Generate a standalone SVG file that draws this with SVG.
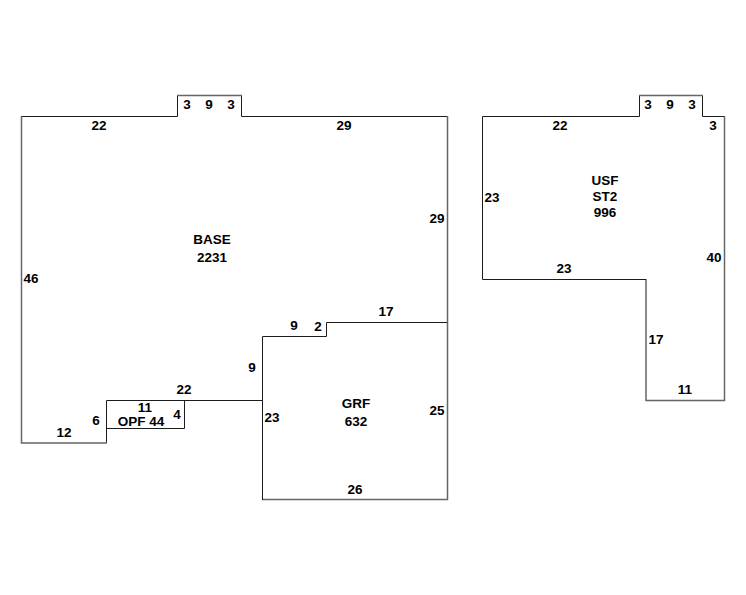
<svg xmlns="http://www.w3.org/2000/svg" width="746" height="595" viewBox="0 0 746 595">
<style>
.d{fill:none;stroke:#1c1c1c;stroke-width:1}
.g{fill:none;stroke:#666;stroke-width:1.500}
text{font-family:"Liberation Sans",Arial,sans-serif;font-size:13.500px;font-weight:bold;fill:#000;text-anchor:middle}
</style>
<rect width="746" height="595" fill="#fff"/>
<g id="connectors">
<path class="d" d="M21.500 116.500H177.500V95M241.500 95V116.500H447"/>
<path class="g" d="M177 95.500H242"/>
<path class="g" d="M447.500 116V499.500H262"/>
<path class="d" d="M262.500 500V336.500H326.500V322.500H447"/>
<path class="d" d="M262 400.500H106.500V443"/>
<path class="g" d="M107 443H21.500V116"/>
<path class="d" d="M106.500 428.500H184.500V400.500"/>
<path class="d" d="M482.500 279.500V116.500H639.500V95M702.500 95V116.500H724"/>
<path class="g" d="M639 95.500H703"/>
<path class="g" d="M724.500 116V400.500H646V279"/>
<path class="d" d="M646 279.500H482.500"/>
</g>
<g id="base">
<text x="212" y="244">BASE</text><text x="212" y="262">2231</text>
<text x="99" y="130">22</text><text x="187" y="109">3</text><text x="209" y="109">9</text><text x="231" y="109">3</text>
<text x="344" y="130">29</text><text x="437" y="223">29</text><text x="31" y="283">46</text>
<text x="64" y="437">12</text><text x="96" y="425">6</text><text x="184" y="394">22</text><text x="252" y="372">9</text>
</g>
<g id="opf">
<text x="145" y="412">11</text><text x="141" y="426">OPF 44</text><text x="177" y="419">4</text>
</g>
<g id="grf">
<text x="356" y="408">GRF</text><text x="356" y="426">632</text>
<text x="294" y="330">9</text><text x="318" y="331">2</text><text x="386" y="316">17</text>
<text x="272" y="422">23</text><text x="437" y="415">25</text><text x="355" y="494">26</text>
</g>
<g id="usf">
<text x="605" y="185">USF</text><text x="605" y="201">ST2</text><text x="605" y="217">996</text>
<text x="560" y="130">22</text><text x="648" y="109">3</text><text x="670" y="109">9</text><text x="692" y="109">3</text><text x="713" y="130">3</text>
<text x="492" y="202">23</text><text x="564" y="273">23</text><text x="714" y="262">40</text><text x="656" y="344">17</text><text x="685" y="394">11</text>
</g>
</svg>
